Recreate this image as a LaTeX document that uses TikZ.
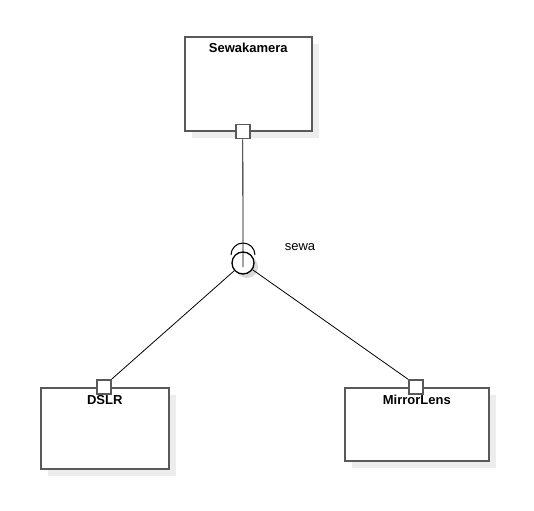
\documentclass[tikz,border=0pt]{standalone}
\usepackage{fontspec}
\setmainfont{Liberation Sans}
\usetikzlibrary{shadows}
\tikzset{
  comp/.style={draw=black!65, line width=1.6pt, fill=white, anchor=north west,
    drop shadow={shadow xshift=7pt, shadow yshift=-7pt, fill=black!7, opacity=1}},
  compname/.style={font=\bfseries\fontsize{13}{15}\selectfont, anchor=north, inner sep=0pt},
  port/.style={draw=black!65, line width=1.6pt, fill=white, minimum size=14pt, inner sep=0pt},
  ball/.style={circle, draw=black, line width=1.3pt, fill=white, minimum size=22pt, inner sep=0pt,
    drop shadow={shadow xshift=4pt, shadow yshift=-4pt, fill=black!15, opacity=1}},
  wire/.style={line width=0.8pt},
}
\begin{document}
\begin{tikzpicture}[x=1pt, y=-1pt]
\useasboundingbox (0,0) rectangle (534,510);
\coordinate (Sw) at (184,36);
\coordinate (Ds) at (40,387);
\coordinate (Ml) at (344,387);
\coordinate (B) at (243,263);
\coordinate (S) at (243,255);

% components
\node[comp, minimum width=127pt, minimum height=94pt] (sewakamera) at (Sw) {};
\node[comp, minimum width=128pt, minimum height=81pt] (dslr) at (Ds) {};
\node[comp, minimum width=144pt, minimum height=73pt] (mirrorlens) at (Ml) {};
\node[compname] (sewakameraname) at ([yshift=-7pt]sewakamera.north) {Sewakamera};

% ports
\node[port] (sewaport) at ([xshift=-5.5pt]sewakamera.south) {};
\node[port] (dslrport) at ([xshift=-1pt]dslr.north) {};
\node[port] (mirrorport) at ([xshift=-1pt]mirrorlens.north) {};
\node[compname] (dslrname) at ([yshift=-8pt]dslr.north) {DSLR};
\node[compname] (mirrorlensname) at ([yshift=-8pt]mirrorlens.north) {MirrorLens};

% provided / required interface
\node[ball] (ball) at (B) {};
\coordinate (socktop) at ([yshift=-12pt]S);
\draw[line width=1pt] ([xshift=12pt]S) arc (0:180:12pt);
\draw[wire] (sewaport) -- (socktop);
\node[font=\fontsize{13}{15}\selectfont] (sewa) at (300,247) {sewa};

\draw[wire] (ball) -- (dslrport.north east);
\draw[wire] (ball) -- (mirrorport.north west);
\end{tikzpicture}
\end{document}
